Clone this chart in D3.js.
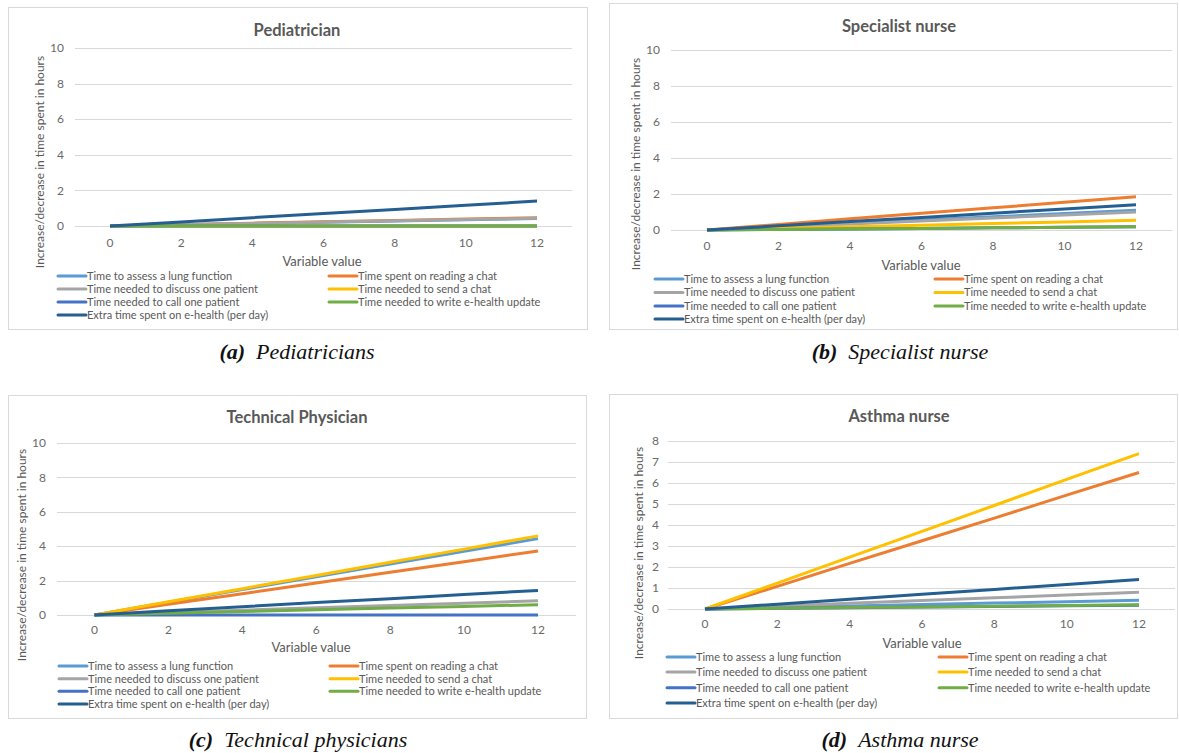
<!DOCTYPE html>
<html>
<head>
<meta charset="utf-8">
<script src="https://cdn.jsdelivr.net/npm/d3@7"></script>
<style>
  html, body { margin: 0; padding: 0; background: #fff; }
  svg { display: block; }
  .tick-label { font-family: Lato, "Liberation Sans", sans-serif; font-size: 12px; fill: #6a6a6a; }
  .axis-title { font-family: Lato, "Liberation Sans", sans-serif; font-size: 13px; fill: #595959; }
  .y-title { font-size: 12px; }
  .chart-title { font-family: Lato, "Liberation Sans", sans-serif; font-size: 16.5px; font-weight: bold; fill: #595959; }
  .legend-text { font-family: Lato, "Liberation Sans", sans-serif; font-size: 11px; fill: #595959; }
  .caption { font-family: "Liberation Serif", "DejaVu Serif", serif; font-size: 22px; font-style: italic; fill: #111; }
</style>
</head>
<body>
<svg id="chart" width="1179" height="753"></svg>
<script>
// ---------- DATA ----------
const xValues = [0, 2, 4, 6, 8, 10, 12];
const xTickLabels = ["0", "2", "4", "6", "8", "10", "12"];
const seriesNames = [
  "Time to assess a lung function",
  "Time spent on reading a chat",
  "Time needed to discuss one patient",
  "Time needed to send a chat",
  "Time needed to call one patient",
  "Time needed to write e-health update",
  "Extra time spent on e-health (per day)"
];
const panelTitles = ["Pediatrician", "Specialist nurse", "Technical Physician", "Asthma nurse"];
const captionLetters = ["(a)", "(b)", "(c)", "(d)"];
const captionTexts = ["Pediatricians", "Specialist nurse", "Technical physicians", "Asthma nurse"];
const yAxisTitle = "Increase/decrease in time spent in hours";
const xAxisTitle = "Variable value";
const yTicksA = [0, 2, 4, 6, 8, 10];
const yTicksB = [0, 2, 4, 6, 8, 10];
const yTicksC = [0, 2, 4, 6, 8, 10];
const yTicksD = [0, 1, 2, 3, 4, 5, 6, 7, 8];

// Pediatrician
const pediatricianValues = [
  [0, 0.07, 0.14, 0.21, 0.28, 0.35, 0.42],
  [0, 0.08, 0.16, 0.24, 0.31, 0.39, 0.47],
  [0, 0.07, 0.14, 0.22, 0.29, 0.36, 0.43],
  [0, 0, 0, 0, 0, 0, 0],
  [0, 0, 0, 0, 0, 0, 0],
  [0, 0, 0, 0, 0, 0, 0],
  [0, 0.23, 0.47, 0.70, 0.93, 1.17, 1.40]
];
// Specialist nurse
const specialistNurseValues = [
  [0, 0.18, 0.37, 0.55, 0.73, 0.92, 1.10],
  [0, 0.31, 0.62, 0.93, 1.23, 1.54, 1.85],
  [0, 0.17, 0.33, 0.50, 0.67, 0.83, 1.00],
  [0, 0.09, 0.18, 0.27, 0.36, 0.45, 0.54],
  [0, 0.03, 0.06, 0.09, 0.12, 0.15, 0.18],
  [0, 0.03, 0.06, 0.09, 0.12, 0.15, 0.18],
  [0, 0.23, 0.47, 0.70, 0.93, 1.17, 1.40]
];
// Technical physician
const technicalPhysicianValues = [
  [0, 0.74, 1.48, 2.22, 2.96, 3.70, 4.44],
  [0, 0.62, 1.24, 1.86, 2.48, 3.10, 3.72],
  [0, 0.14, 0.28, 0.42, 0.55, 0.69, 0.83],
  [0, 0.77, 1.53, 2.30, 3.07, 3.83, 4.60],
  [0, 0, 0, 0, 0, 0, 0],
  [0, 0.10, 0.20, 0.30, 0.40, 0.50, 0.60],
  [0, 0.24, 0.48, 0.72, 0.95, 1.19, 1.43]
];
// Asthma nurse
const asthmaNurseValues = [
  [0, 0.07, 0.14, 0.21, 0.28, 0.35, 0.42],
  [0, 1.08, 2.17, 3.25, 4.33, 5.42, 6.50],
  [0, 0.13, 0.27, 0.40, 0.53, 0.67, 0.80],
  [0, 1.23, 2.47, 3.70, 4.93, 6.17, 7.40],
  [0, 0.03, 0.06, 0.09, 0.12, 0.15, 0.18],
  [0, 0.03, 0.07, 0.10, 0.13, 0.17, 0.20],
  [0, 0.23, 0.47, 0.70, 0.93, 1.17, 1.40]
];

// ---------- STYLE / LAYOUT ----------
const colors = ["#5B9BD5", "#ED7D31", "#A5A5A5", "#FFC000", "#4472C4", "#70AD47", "#255E91"];

const panels = [
  { values: pediatricianValues, ticks: yTicksA, yMax: 10,
    box: [8, 7, 587, 329], titleX: 297, titleY: 30,
    x0: 110, x12: 537, y0: 226, yTop: 48, gL: 75, gR: 572, tickX: 64, xTickY: 243,
    xTitleX: 322, xTitleY: 261, yTitleX: 40, yTitleY: 162,
    legRows: [276, 289, 302, 315], col1: 58, col2: 329,
    capX: 297, capY: 359 },
  { values: specialistNurseValues, ticks: yTicksB, yMax: 10,
    box: [609, 3, 1177, 329], titleX: 899, titleY: 26,
    x0: 707, x12: 1136, y0: 230, yTop: 50, gL: 671, gR: 1172, tickX: 660, xTickY: 246,
    xTitleX: 921, xTitleY: 265, yTitleX: 636, yTitleY: 164,
    legRows: [279, 292.5, 306, 319], col1: 655, col2: 935,
    capX: 900, capY: 359 },
  { values: technicalPhysicianValues, ticks: yTicksC, yMax: 10,
    box: [8, 395, 586, 718], titleX: 297, titleY: 417,
    x0: 94.5, x12: 538, y0: 615, yTop: 443, gL: 57, gR: 576, tickX: 46, xTickY: 630,
    xTitleX: 311, xTitleY: 647, yTitleX: 22, yTitleY: 555,
    legRows: [666, 678.7, 691.3, 704], col1: 59, col2: 330,
    capX: 298, capY: 747 },
  { values: asthmaNurseValues, ticks: yTicksD, yMax: 8,
    box: [609, 394, 1177, 718], titleX: 899, titleY: 416,
    x0: 705, x12: 1139, y0: 609, yTop: 441, gL: 668, gR: 1175, tickX: 659, xTickY: 624,
    xTitleX: 922, xTitleY: 643, yTitleX: 639, yTitleY: 553,
    legRows: [657, 672, 687.7, 703], col1: 667, col2: 939,
    capX: 900, capY: 747 }
];

const svg = d3.select("#chart");

panels.forEach((p, pi) => {
  const g = svg.append("g");
  const [bx0, by0, bx1, by1] = p.box;
  g.append("rect").attr("x", bx0 + 0.5).attr("y", by0 + 0.5)
    .attr("width", bx1 - bx0).attr("height", by1 - by0)
    .attr("fill", "#fff").attr("stroke", "#d9d9d9").attr("stroke-width", 1);

  const x = d3.scaleLinear().domain([0, 12]).range([p.x0, p.x12]);
  const y = d3.scaleLinear().domain([0, p.yMax]).range([p.y0, p.yTop]);

  // gridlines
  g.selectAll(".grid").data(p.ticks).enter().append("line")
    .attr("x1", p.gL).attr("x2", p.gR)
    .attr("y1", d => Math.round(y(d)) + 0.5).attr("y2", d => Math.round(y(d)) + 0.5)
    .attr("stroke", "#d9d9d9").attr("stroke-width", 1);

  // y tick labels
  g.selectAll(".yt").data(p.ticks).enter().append("text")
    .attr("class", "tick-label")
    .attr("x", p.tickX).attr("y", d => y(d)).attr("dy", "0.35em")
    .attr("text-anchor", "end").text(d => d);

  // x tick labels
  g.selectAll(".xt").data(xValues).enter().append("text")
    .attr("class", "tick-label")
    .attr("x", d => x(d)).attr("y", p.xTickY).attr("dy", "0.35em")
    .attr("text-anchor", "middle").text((d, i) => xTickLabels[i]);

  // titles
  g.append("text").attr("class", "chart-title")
    .attr("x", p.titleX).attr("y", p.titleY).attr("dy", "0.35em")
    .attr("text-anchor", "middle").text(panelTitles[pi]);
  g.append("text").attr("class", "axis-title")
    .attr("x", p.xTitleX).attr("y", p.xTitleY).attr("dy", "0.35em")
    .attr("text-anchor", "middle").text(xAxisTitle);
  g.append("text").attr("class", "axis-title y-title")
    .attr("transform", `translate(${p.yTitleX},${p.yTitleY}) rotate(-90)`)
    .attr("dy", "0.35em").attr("text-anchor", "middle").text(yAxisTitle);

  // lines
  const line = d3.line().x((d, i) => x(xValues[i])).y(d => y(d));
  p.values.forEach((vals, si) => {
    g.append("path").datum(vals)
      .attr("d", line).attr("fill", "none")
      .attr("stroke", colors[si]).attr("stroke-width", 3)
      .attr("stroke-linecap", "butt").attr("stroke-linejoin", "round");
  });

  // legend
  seriesNames.forEach((name, si) => {
    const row = Math.floor(si / 2), col = si % 2;
    const lx = col === 0 ? p.col1 : p.col2;
    const ly = p.legRows[row];
    g.append("line").attr("x1", lx).attr("x2", lx + 28)
      .attr("y1", ly).attr("y2", ly)
      .attr("stroke", colors[si]).attr("stroke-width", 3).attr("stroke-linecap", "round");
    g.append("text").attr("class", "legend-text")
      .attr("x", lx + 29).attr("y", ly).attr("dy", "0.35em").text(name);
  });

  // caption
  const cap = svg.append("text").attr("class", "caption")
    .attr("x", p.capX).attr("y", p.capY).attr("text-anchor", "middle");
  cap.append("tspan").attr("font-weight", "bold").text(captionLetters[pi]);
  cap.append("tspan").text("\u2002" + captionTexts[pi]);
});
</script>
</body>
</html>
